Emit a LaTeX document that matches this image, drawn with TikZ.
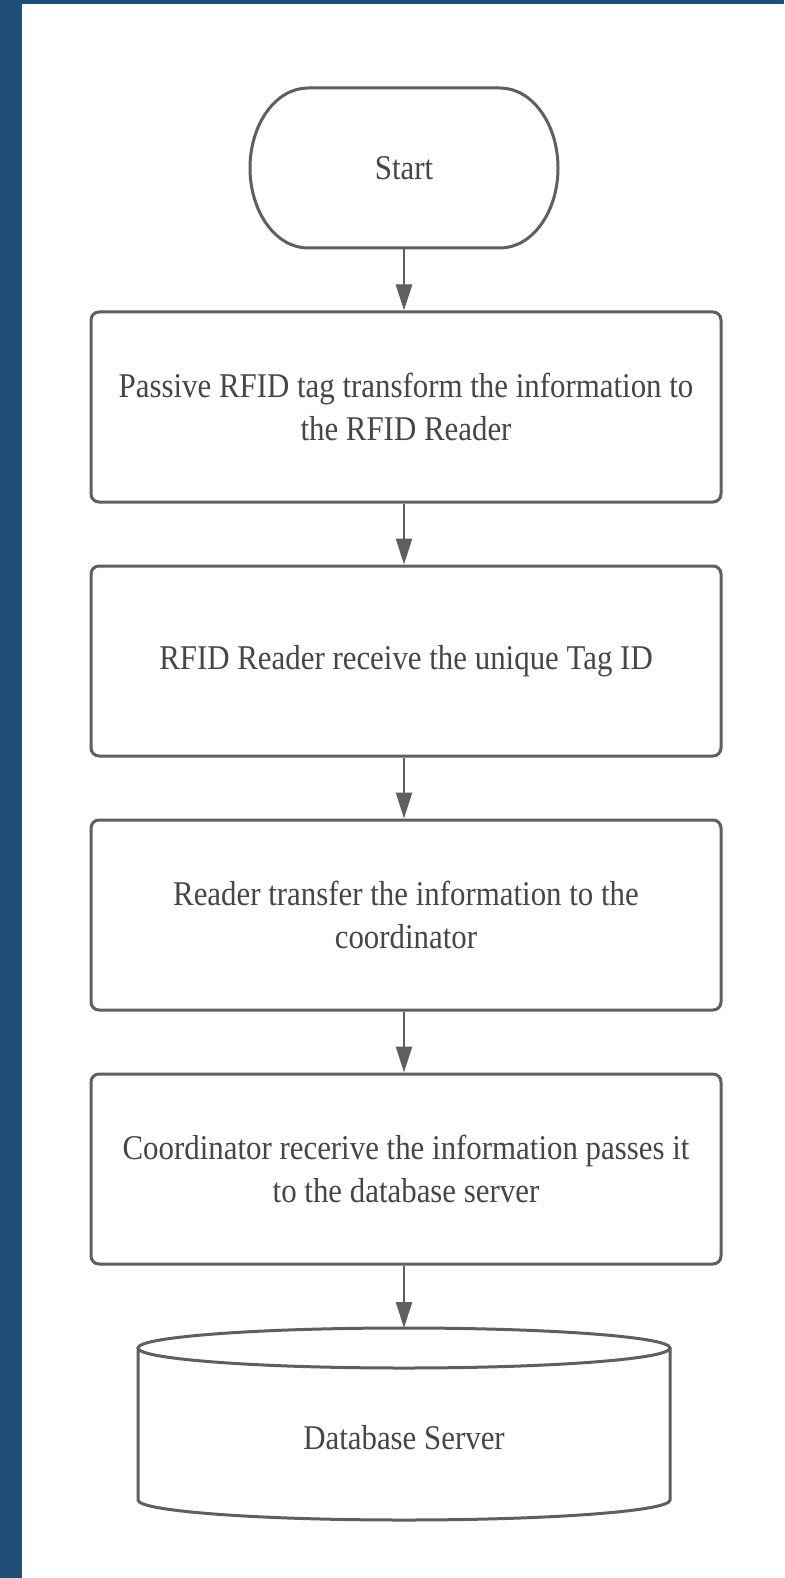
\documentclass[tikz,border=0pt]{standalone}
\usepackage{fontspec}
\setmainfont{Liberation Serif}[FakeStretch=0.89]
\usetikzlibrary{arrows.meta}
\definecolor{frameblue}{RGB}{31,78,121}
\definecolor{linegray}{RGB}{95,95,95}
\definecolor{textgray}{RGB}{70,70,70}
\tikzset{
  stepbox/.style={draw=linegray, line width=3pt, rounded corners=8pt, minimum width=630pt, minimum height=190pt, align=center, text=textgray, font=\fontsize{34.7}{43}\selectfont, inner sep=0pt},
  ghost/.style={inner sep=0pt, outer sep=0pt},
  lbl/.style={text=textgray, font=\fontsize{34.7}{43}\selectfont, inner sep=0pt},
  outline/.style={draw=linegray, line width=3pt, fill=white},
  flow/.style={draw=linegray, line width=2.5pt, -{Triangle[width=16pt,length=26pt]}}
}
\begin{document}
\begin{tikzpicture}[x=1pt,y=-1pt]
\fill[white] (0,0) rectangle (784,1578);
\useasboundingbox (0,0) rectangle (784,1578);
\fill[frameblue] (0,0) rectangle (22,1578);
\fill[frameblue] (0,0) rectangle (784,4);
% Start terminal
\node[ghost, minimum width=308pt, minimum height=160pt] (start) at (404,168) {};
\draw[outline] (308,88) -- (500,88) arc[start angle=-90, end angle=90, x radius=58, y radius=80] -- (308,248) arc[start angle=90, end angle=270, x radius=58, y radius=80] -- cycle;
\node[lbl] (starttext) at (404,168) {Start};
% Process boxes
\node[stepbox] (b1) at (406,407) {Passive RFID tag transform the information to\\the RFID Reader};
\node[stepbox] (b2) at (406,661) {RFID Reader receive the unique Tag ID};
\node[stepbox] (b3) at (406,915) {Reader transfer the information to the\\coordinator};
\node[stepbox] (b4) at (406,1169) {Coordinator recerive the information passes it\\to the database server};
% Database cylinder
\node[ghost, minimum width=532pt, minimum height=192pt] (db) at (404,1424) {};
\draw[outline] (138,1348) -- (138,1500) arc[start angle=180, end angle=0, x radius=266, y radius=20] -- (670,1348);
\draw[outline] (404,1348) ellipse[x radius=266, y radius=20];
\node[lbl] (dbtext) at (404,1438) {Database Server};
% Connectors
\draw[flow] (start.south -| 404,0) -- (b1.north -| 404,0);
\draw[flow] (b1.south -| 404,0) -- (b2.north -| 404,0);
\draw[flow] (b2.south -| 404,0) -- (b3.north -| 404,0);
\draw[flow] (b3.south -| 404,0) -- (b4.north -| 404,0);
\draw[flow] (b4.south -| 404,0) -- (db.north);
\end{tikzpicture}
\end{document}
